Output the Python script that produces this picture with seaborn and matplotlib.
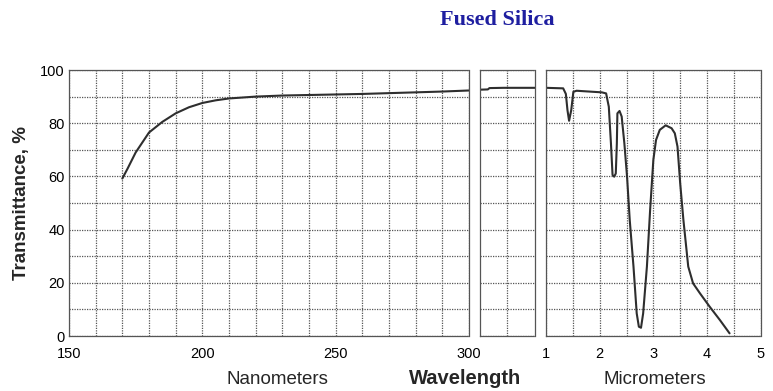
import matplotlib
matplotlib.use("Agg")
import matplotlib.pyplot as plt
from matplotlib import font_manager
import seaborn as sns

sns.set_theme(style="white")
_names = {f.name for f in font_manager.fontManager.ttflist}
narrow = [n for n in ['Liberation Sans Narrow', 'DejaVu Sans Condensed'] if n in _names]
plt.rcParams['font.family'] = narrow + ['Liberation Sans', 'DejaVu Sans']

# ---- data ----
nm_wl = [170, 172, 175, 180, 185, 190, 195, 200, 205, 210, 220, 230, 240, 250, 260, 270, 280, 290, 300]
nm_T = [59.2, 63.0, 69.0, 76.5, 80.5, 83.7, 86.0, 87.6, 88.6, 89.3, 90.0, 90.4, 90.6, 90.8, 91.0, 91.3, 91.6, 91.9, 92.3]

mid_wl = [0.30, 0.40, 0.42, 0.60, 0.80, 1.00]
mid_T = [92.6, 92.7, 93.2, 93.3, 93.3, 93.3]

um_wl = [1.00, 1.32, 1.37, 1.40, 1.43, 1.47, 1.51, 1.57, 1.88, 2.04, 2.12, 2.17, 2.21, 2.24, 2.27,
         2.30, 2.32, 2.33, 2.37, 2.41, 2.46, 2.51, 2.56, 2.63, 2.69, 2.73, 2.77, 2.81, 2.88, 2.94,
         3.00, 3.05, 3.12, 3.23, 3.34, 3.40, 3.45, 3.50, 3.56, 3.65, 3.74, 3.87, 4.05, 4.24, 4.42]
um_T = [93.3, 93.1, 91.0, 84.9, 80.9, 84.9, 91.8, 92.2, 91.8, 91.6, 91.2, 86.2, 72.4, 60.5, 59.9,
        61.1, 72.4, 83.7, 84.6, 82.5, 72.4, 59.9, 43.6, 26.1, 8.5, 3.5, 3.1, 8.5, 26.1, 47.4,
        66.2, 73.7, 77.5, 79.2, 78.1, 76.2, 71.2, 57.4, 43.6, 26.1, 19.8, 16.0, 11.0, 6.0, 1.0]

nm_ticks = [150, 200, 250, 300]
um_ticks = [1, 2, 3, 4, 5]
y_ticks = [0, 20, 40, 60, 80, 100]

W, H = 773, 391
fig = plt.figure(figsize=(W / 100, H / 100), dpi=100)

bottom = (H - 336) / H
height = 266 / H
ax1 = fig.add_axes([69 / W, bottom, 400 / W, height])
ax2 = fig.add_axes([480 / W, bottom, 55 / W, height])
ax3 = fig.add_axes([546 / W, bottom, 214.7 / W, height])

line_kw = dict(color='#2e2e2e', linewidth=1.5)
grid_kw = dict(color='#555555', linestyle=(0, (1, 1)), linewidth=0.9)

sns.lineplot(x=nm_wl, y=nm_T, ax=ax1, **line_kw)
sns.lineplot(x=mid_wl, y=mid_T, ax=ax2, **line_kw)
sns.lineplot(x=um_wl, y=um_T, ax=ax3, **line_kw)

ax1.set_xlim(150, 300)
ax2.set_xlim(0.30, 1.00)
ax3.set_xlim(1, 5)

for ax in (ax1, ax2, ax3):
    ax.set_ylim(0, 100)
    ax.set_yticks(range(0, 101, 10))
    ax.grid(True, which='both', **grid_kw)
    ax.set_axisbelow(True)
    for s in ax.spines.values():
        s.set_color('#555555')
        s.set_linestyle((0, (1, 1)))
        s.set_linewidth(0.9)
    ax.tick_params(axis='x', length=0, labelsize=10.5, colors='black', pad=8)
    ax.tick_params(axis='y', length=0, labelsize=10.5, colors='black', pad=3)
    ax.set_xlabel('')
    ax.set_ylabel('')

xs1 = list(range(150, 301, 10))
ax1.set_xticks(xs1)
ax1.set_xticklabels([str(v) if v in nm_ticks else '' for v in xs1])
ax1.set_yticklabels([str(v) if v in y_ticks else '' for v in range(0, 101, 10)])

ax2.set_xticks([0.65])
ax2.set_xticklabels([''])
ax2.set_yticklabels([])

xs3 = [1 + 0.5 * i for i in range(9)]
ax3.set_xticks(xs3)
ax3.set_xticklabels([str(int(v)) if int(v) == v and int(v) in um_ticks else '' for v in xs3])
ax3.set_yticklabels([])

fig.text(22 / W, 1 - 203 / H, 'Transmittance, %', rotation=90, ha='center', va='center',
         fontsize=13.5, fontweight='bold', family=['Liberation Sans', 'DejaVu Sans'])
fig.text(277 / W, 1 - 379 / H, 'Nanometers', ha='center', va='center', fontsize=13.5,
         family=['Liberation Sans', 'DejaVu Sans'])
fig.text(465 / W, 1 - 379 / H, 'Wavelength', ha='center', va='center', fontsize=14.5,
         fontweight='bold', family=['Liberation Sans', 'DejaVu Sans'])
fig.text(655 / W, 1 - 379 / H, 'Micrometers', ha='center', va='center', fontsize=13.5,
         family=['Liberation Sans', 'DejaVu Sans'])
fig.text(497 / W, 1 - 20 / H, 'Fused Silica', ha='center', va='center', fontsize=16,
         fontweight='bold', color='#1e1ea0', family=['Liberation Serif', 'DejaVu Serif'])

fig.savefig('out.png', dpi=100, facecolor='white')
